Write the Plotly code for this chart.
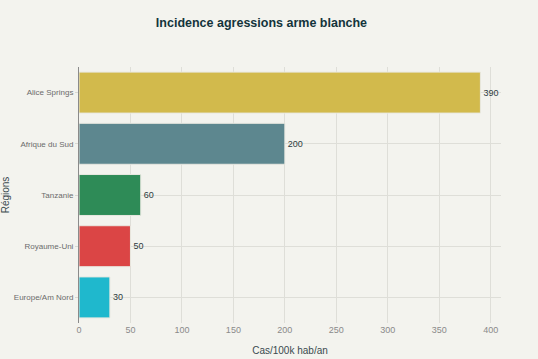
import plotly.graph_objects as go

regions = ["Europe/Am Nord", "Royaume-Uni", "Tanzanie", "Afrique du Sud", "Alice Springs"]
values = [30, 50, 60, 200, 390]
colors = ["#1FB8CD", "#DB4545", "#2E8B57", "#5D878F", "#D2BA4C"]

fig = go.Figure(go.Bar(
    x=values, y=regions, orientation="h",
    marker=dict(color=colors, line=dict(color="#E8E8E0", width=1)),
    text=[str(v) for v in values], textposition="outside", cliponaxis=False,
    textfont=dict(size=9, color="#2e3c40"),
    width=0.8,
))

fig.update_layout(
    width=538, height=359,
    paper_bgcolor="#F3F3EE", plot_bgcolor="#F3F3EE",
    font=dict(family="'Liberation Sans', Arial, sans-serif", color="#6b6b6b", size=9),
    title=dict(text="Incidence agressions arme blanche", x=0.486, xanchor="center", y=0.937, yanchor="middle",
               font=dict(size=12.5, color="#13343B", weight="bold")),
    margin=dict(l=79, r=37, t=67, b=36),
    showlegend=False,
    bargap=0.2,
)
fig.update_xaxes(
    range=[0, 410], tickvals=[0, 50, 100, 150, 200, 250, 300, 350, 400],
    showgrid=True, gridcolor="#DEDED8", gridwidth=1, zeroline=False, automargin=False,
    tickfont=dict(size=9, color="#8a8a8a"),
    title=dict(text="Cas/100k hab/an", font=dict(size=10, color="#3a4a4f"), standoff=12),
)
fig.update_yaxes(
    showgrid=True, gridcolor="#DEDED8", showline=True, linecolor="#8a8a8a", linewidth=1,
    ticks="outside", ticklen=3, tickcolor="#d8d8d2", automargin=False,
    tickfont=dict(size=8, color="#6b6b6b"),
    title=dict(text="Régions", font=dict(size=10, color="#3a4a4f"), standoff=6),
)

fig.write_html("out.html", config={"displayModeBar": False},
               post_script="document.body.style.margin='0';document.body.style.background='#F3F3EE';")
